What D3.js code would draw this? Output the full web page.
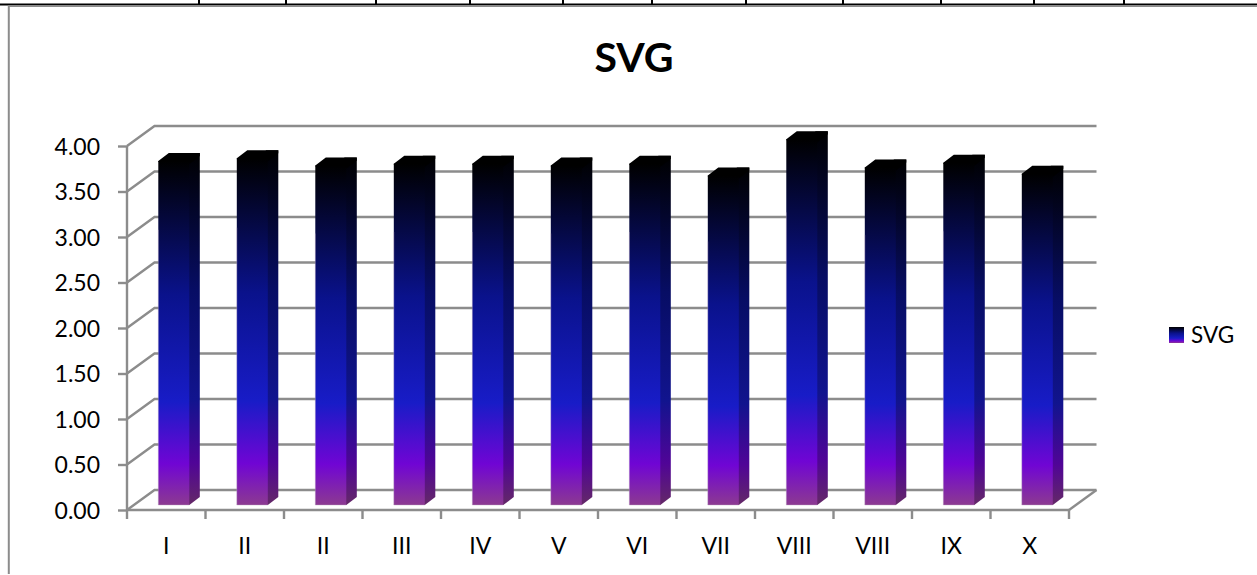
<!DOCTYPE html>
<html><head><meta charset="utf-8">
<script src="https://cdn.jsdelivr.net/npm/d3@7"></script>
<style>html,body{margin:0;padding:0;background:#fff;overflow:hidden}svg{display:block}text{font-family:Lato,sans-serif;fill:#000}</style>
</head><body><svg id="c" width="1257" height="575"></svg>
<script>
const categories=["I","II","II","III","IV","V","VI","VII","VIII","VIII","IX","X"];
const values=[3.78,3.81,3.73,3.75,3.75,3.73,3.75,3.62,4.02,3.71,3.76,3.64];
const yTicks=[0,0.5,1,1.5,2,2.5,3,3.5,4];
const seriesName="SVG";
const tableRuleX=[199,286,376,470,563,652,746,843,941,1034,1124];
const gradStops=[[0,"#000000"],[0.39,"#0a128c"],[0.70,"#181cc7"],[0.88,"#7005d4"],[1,"#8c3a91"]];

const GRID="#8c8c8c", GW=2.4;
const wall={dx:27.5,dy:-20}, barDepth={dx:10.5,dy:-8};
const barBase=505, barW=31, barOffset=31.3;

const svg=d3.select("#c");
const x=d3.scaleBand().domain(d3.range(categories.length)).range([127,1069]);
const y=d3.scaleLinear().domain([0,4]).range([510,146]);
const defs=svg.append("defs");
function grad(id,f){
  const g=defs.append("linearGradient").attr("id",id).attr("x1",0).attr("y1",0).attr("x2",0).attr("y2",1);
  gradStops.forEach(s=>g.append("stop").attr("offset",s[0]).attr("stop-color",f(s[1])));
}
grad("gf",c=>c);
grad("gs",c=>d3.color(c).darker(0.95).formatHex());

// sheet rules behind the chart
svg.append("path").attr("d","M0,4.5H1257").attr("stroke","#000").attr("stroke-width",2).attr("fill","none");
svg.selectAll(".rule").data(tableRuleX).join("line").attr("x1",d=>d).attr("x2",d=>d).attr("y1",0).attr("y2",4)
  .attr("stroke","#000").attr("stroke-width",2);
// chart border
svg.append("path").attr("d","M8.8,574V6H1257").attr("fill","none").attr("stroke",GRID).attr("stroke-width",2);

// walls
const grid=svg.append("g").attr("stroke",GRID).attr("stroke-width",GW).attr("fill","none");
grid.selectAll(".g").data(yTicks).join("path")
  .attr("d",v=>`M${x.range()[0]},${y(v)}l${wall.dx},${wall.dy}H${x.range()[1]+wall.dx}`);
grid.append("path").attr("d",`M${x.range()[1]},${y(0)}l${wall.dx},${wall.dy}`);

// axes
const yAxis=svg.append("g").attr("transform",`translate(${x.range()[0]},0)`)
  .call(d3.axisLeft(y).tickValues(yTicks).tickFormat(d3.format(".2f")).tickSize(9).tickPadding(18));
yAxis.selectAll("line,path").attr("stroke",GRID).attr("stroke-width",GW);
yAxis.selectAll("text").attr("font-size",23).attr("dy","0.35em");
yAxis.select(".domain").attr("d",`M0,${y(4)}V${y(0)}`);

const xAxis=svg.append("g").attr("transform",`translate(0,${y(0)})`)
  .call(d3.axisBottom(x).tickFormat(i=>categories[i]).tickSize(0).tickPadding(27.5));
xAxis.select(".domain").attr("d",`M${x.range()[0]},0H${x.range()[1]}`).attr("stroke",GRID).attr("stroke-width",GW);
xAxis.selectAll("text").attr("font-size",23);
const edges=d3.range(categories.length+1).map(i=>x.range()[0]+i*x.step());
svg.selectAll(".edge").data(edges).join("line").attr("x1",d=>d).attr("x2",d=>d)
  .attr("y1",y(0)).attr("y2",y(0)+9).attr("stroke",GRID).attr("stroke-width",GW);

// bars: side and top run under the front face so no seam shows
const bars=svg.selectAll(".bar").data(values).join("g").attr("class","bar")
  .attr("transform",(v,i)=>`translate(${x(i)+barOffset},${barBase})`);
const h=v=>y(0)-y(v);
bars.append("path").attr("fill","url(#gs)")
  .attr("d",v=>`M${barW-2},0H${barW}l${barDepth.dx},${barDepth.dy}V${-h(v)+barDepth.dy}H${barW-2}Z`);
bars.append("path").attr("fill","#000")
  .attr("d",v=>`M0,${-h(v)+1}V${-h(v)}l${barDepth.dx},${barDepth.dy}h${barW}v3L${barW},${-h(v)+3}V${-h(v)+1}Z`);
bars.append("rect").attr("fill","url(#gf)").attr("x",0).attr("y",v=>-h(v)).attr("width",barW).attr("height",h);
// pale antialiased edge on the bottom and lower left of the front face
bars.append("path").attr("fill","none").attr("stroke","#b9a6c4").attr("stroke-opacity",0.5).attr("stroke-width",0.8)
  .attr("d",v=>`M0,${-h(v)*0.8}V0H${barW}`);

// title
svg.append("text").attr("x",634).attr("y",72).attr("text-anchor","middle")
  .attr("font-size",41).attr("font-weight",700).text(seriesName);

// legend
svg.append("rect").attr("x",1169).attr("y",327).attr("width",15).attr("height",16).attr("fill","url(#gf)");
svg.append("text").attr("x",1191).attr("y",343).attr("font-size",22.5).text(seriesName);
</script></body></html>
